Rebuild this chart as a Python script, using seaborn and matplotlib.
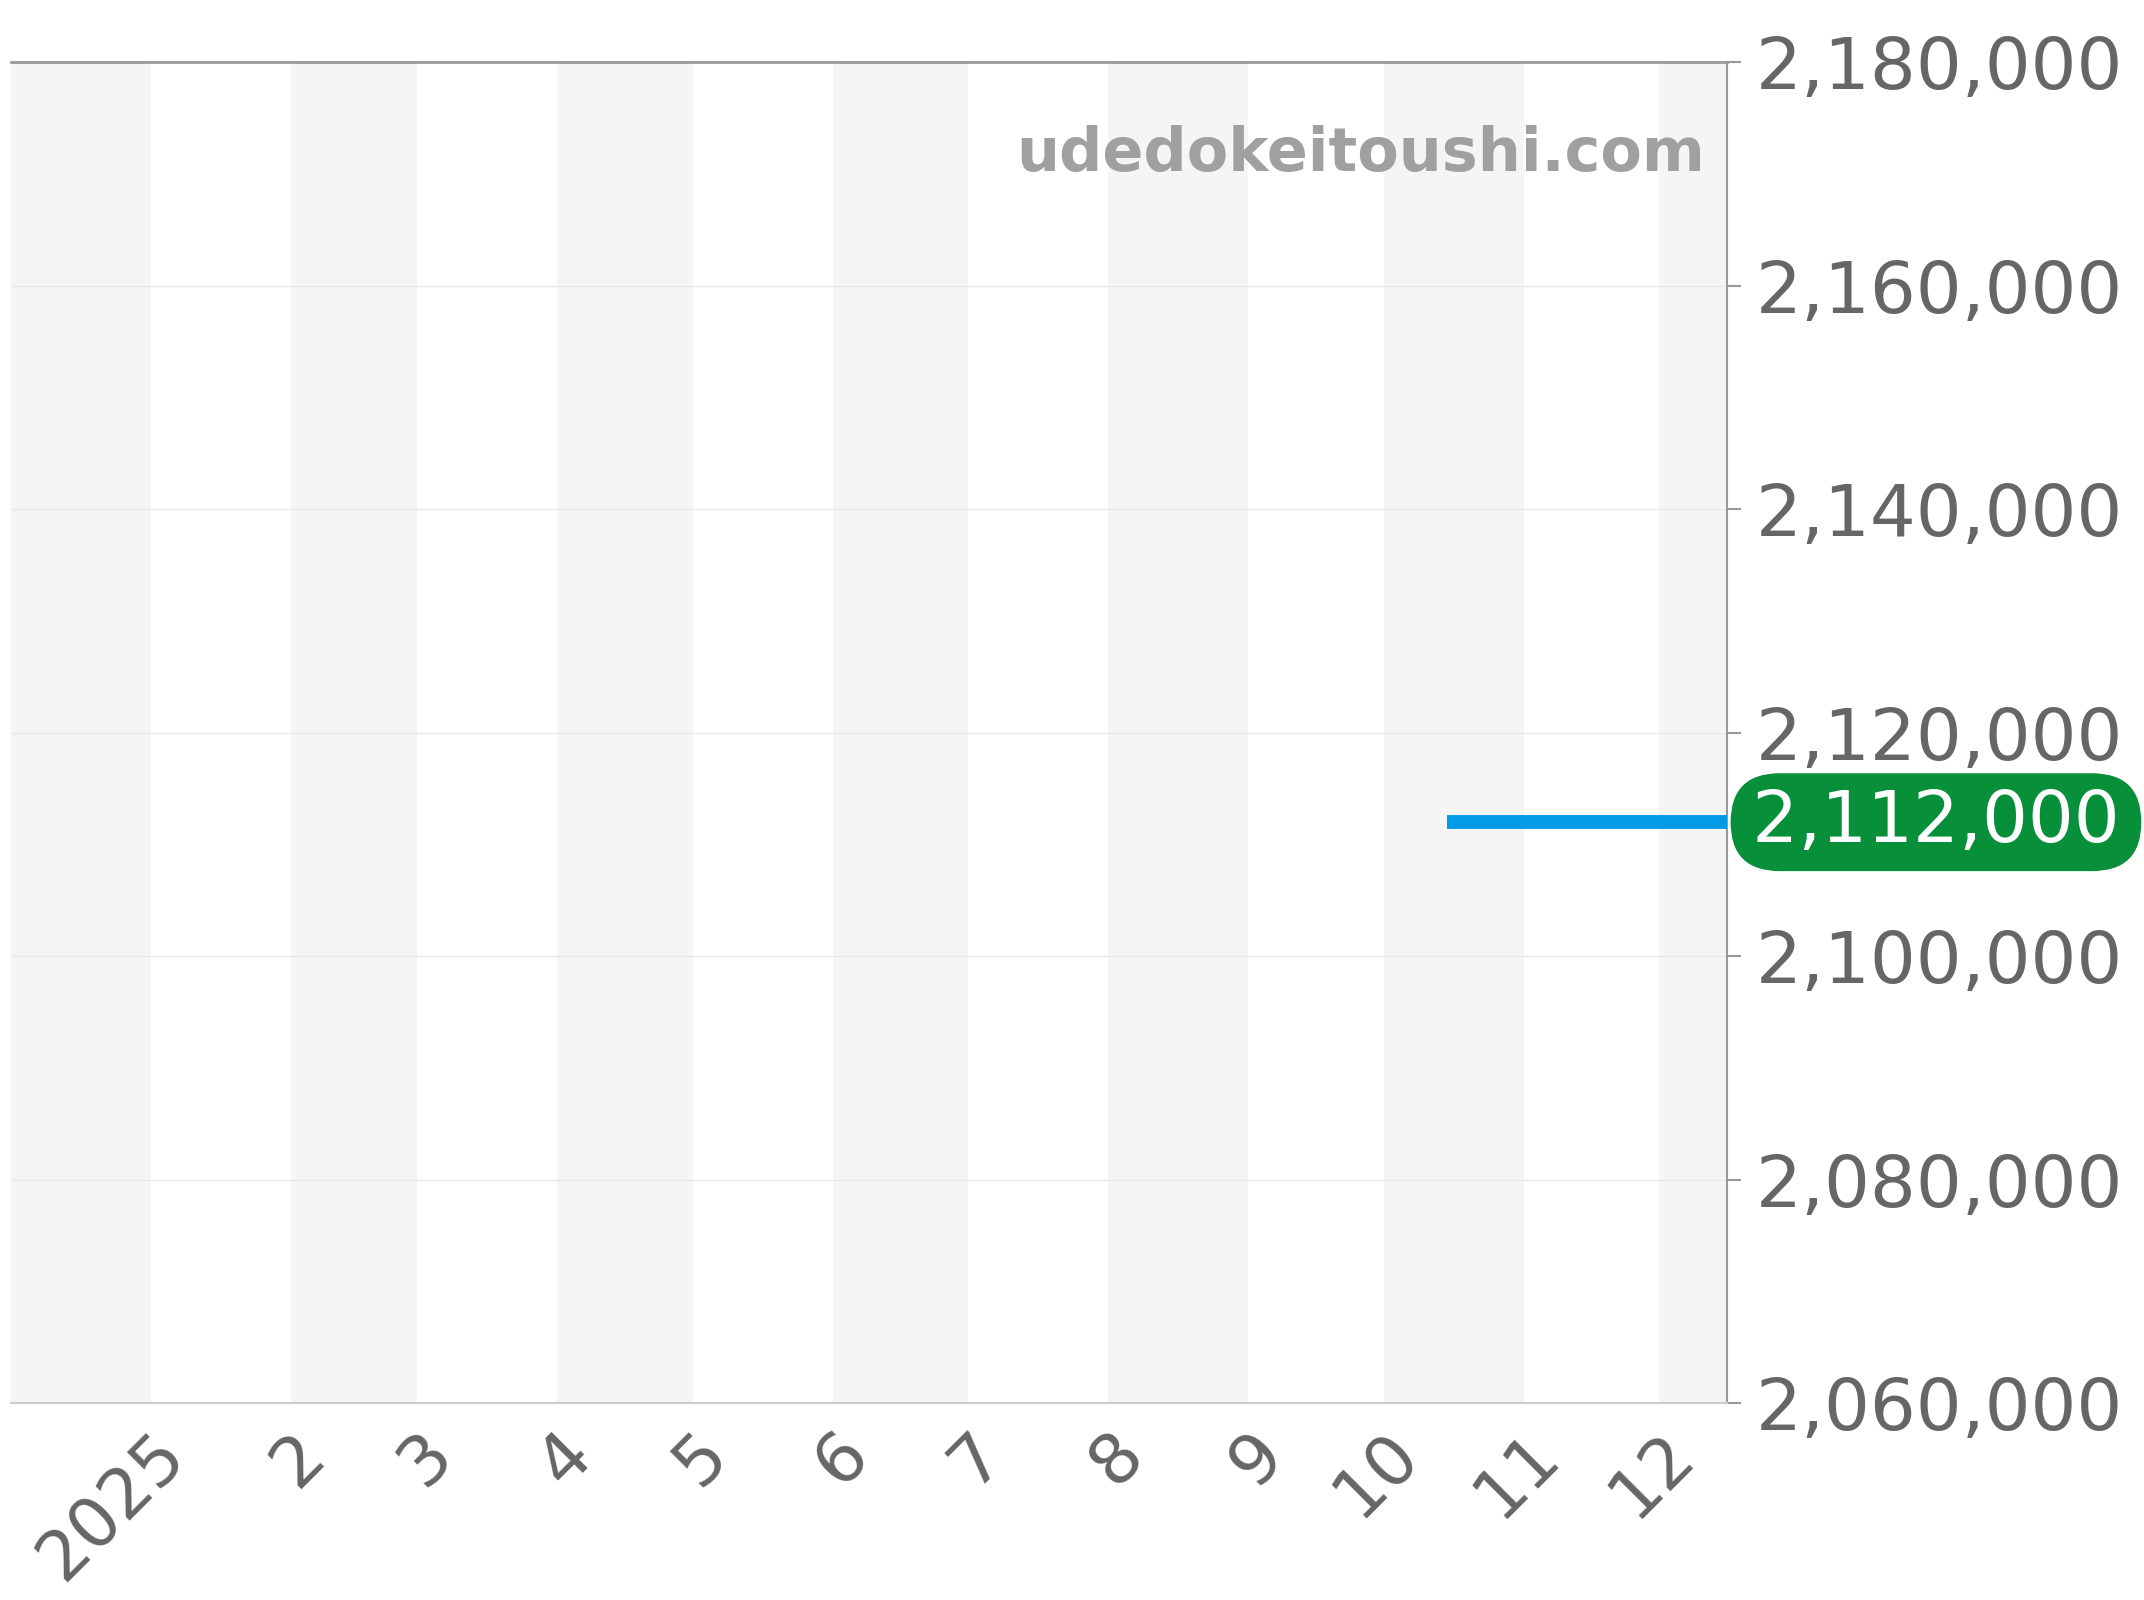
"""
Price history chart - single series, right-hand axis, latest price badge
"""

import matplotlib
matplotlib.use("Agg")
import matplotlib.pyplot as plt
import matplotlib.transforms as mtransforms
from matplotlib.ticker import FuncFormatter, MultipleLocator
import seaborn as sns
import pandas as pd

# Data
dates = ["2025-10-15", "2025-12-16"]
prices = [2112000, 2112000]
latest_price = 2112000
month_labels = ["2025", "2", "3", "4", "5", "6", "7", "8", "9", "10", "11", "12"]
x_start, x_end = "2024-12-01", "2025-12-16"
y_min, y_max = 2060000, 2180000
watermark = "udedokeitoushi.com"

sns.set_style("white")
plt.rcParams['font.family'] = ['DejaVu Sans']

TEXT = '#666666'

fig = plt.figure(figsize=(21.44, 16), dpi=100)
ax = fig.add_axes([0.005, 0.123, 0.8005, 0.838])

df = pd.DataFrame({'date': pd.to_datetime(dates), 'price': prices})

# alternating month bands
starts = pd.date_range("2024-12-01", "2026-01-01", freq="MS")
for i in range(len(starts) - 1):
    if i % 2 == 0:
        ax.axvspan(starts[i], starts[i + 1], color='#f5f5f5', lw=0, zorder=0)

sns.lineplot(data=df, x='date', y='price', ax=ax, color='#039be5',
             linewidth=10, solid_capstyle='butt', zorder=3)

ax.set_xlim(pd.Timestamp(x_start), pd.Timestamp(x_end))
ax.set_ylim(y_min, y_max)

# x axis: month ticks
ticks = pd.date_range("2025-01-01", "2025-12-01", freq="MS")
ax.set_xticks(ticks)
ax.set_xticklabels(month_labels, rotation=45, ha='right', va='center',
                   rotation_mode='anchor', fontsize=50, color=TEXT)
ax.tick_params(axis='x', length=6, width=1.5, color='#bbbbbb', pad=23)
shift = mtransforms.ScaledTranslation(0.24, 0, fig.dpi_scale_trans)
for lbl in ax.get_xticklabels():
    lbl.set_transform(lbl.get_transform() + shift)

# y axis on the right
ax.yaxis.tick_right()
ax.yaxis.set_major_locator(MultipleLocator(20000))
ax.yaxis.set_major_formatter(FuncFormatter(lambda v, p: f"{int(v):,}"))
ax.tick_params(axis='y', length=10, width=1.5, color='#999999', pad=11,
               labelsize=52, labelcolor=TEXT)
ax.grid(axis='y', color='#e8e8e8', linewidth=1)
ax.grid(axis='x', visible=False)
ax.set_xlabel('')
ax.set_ylabel('')

ax.spines['left'].set_visible(False)
ax.spines['top'].set_color('#999999')
ax.spines['top'].set_linewidth(2)
ax.spines['right'].set_color('#999999')
ax.spines['right'].set_linewidth(1.5)
ax.spines['bottom'].set_color('#cccccc')
ax.spines['bottom'].set_linewidth(1.5)

# watermark
ax.text(0.987, 0.931, watermark, transform=ax.transAxes, ha='right', va='center',
        fontsize=43.5, fontweight='bold', color='#a0a0a0', zorder=4)

# latest price badge (hair spaces widen the pill a little)
ax.text(1.0105, latest_price, f"\u200a{latest_price:,}\u200a",
        transform=ax.get_yaxis_transform(),
        ha='left', va='center', fontsize=52, color='white', zorder=5, clip_on=False,
        bbox=dict(boxstyle='round,pad=0.2,rounding_size=0.68', fc='#078f3a', ec='none'))

plt.savefig('out.png', dpi=100)
plt.close()
